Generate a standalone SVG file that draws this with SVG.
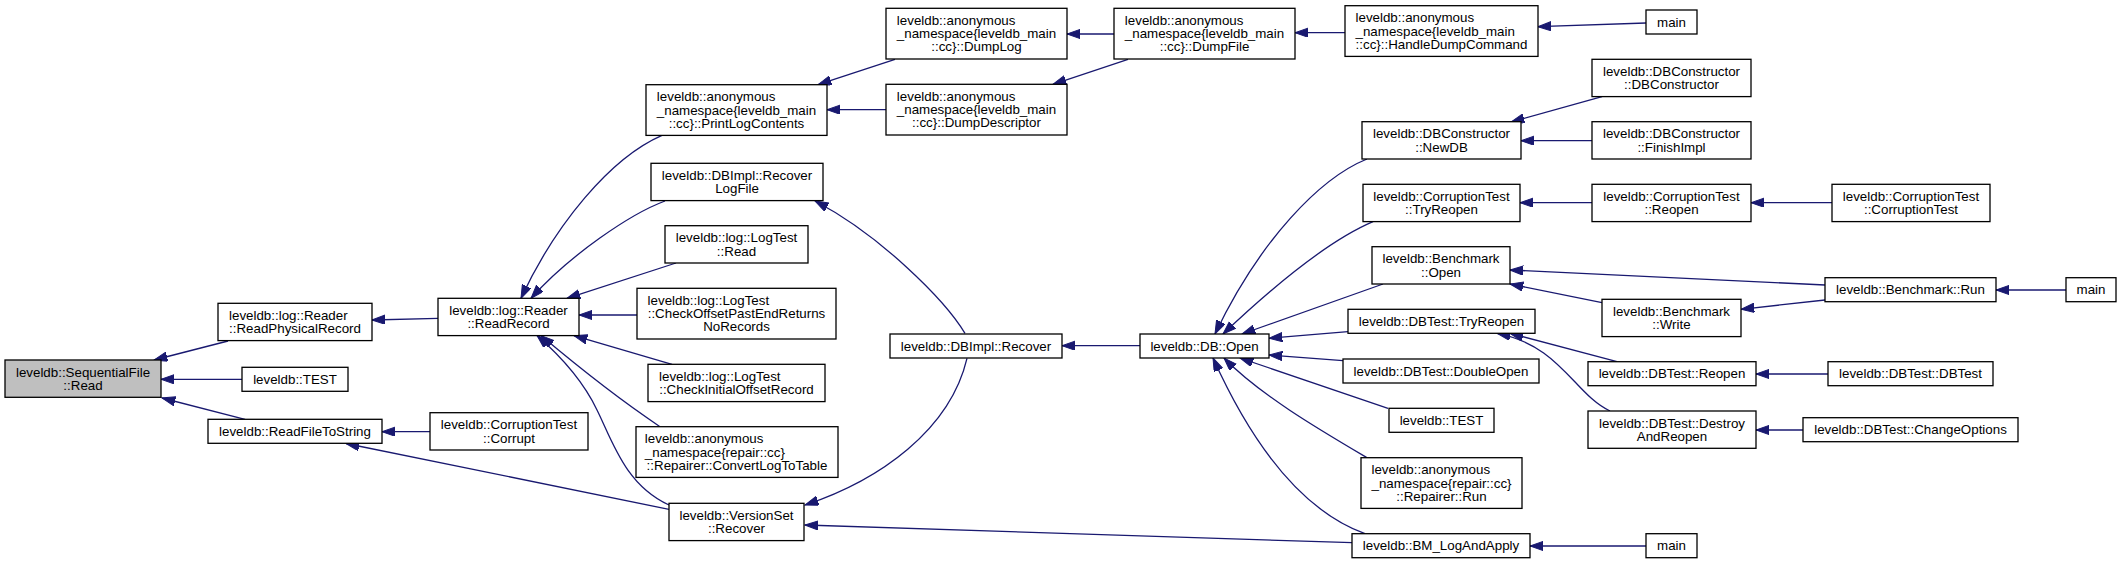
<svg xmlns="http://www.w3.org/2000/svg" width="2121" height="564" viewBox="0 0 2121 564">
<style>
.n rect{fill:#fff;stroke:#000;stroke-width:1.3}
.n text{font-family:"Liberation Sans",Arial,Helvetica,sans-serif;font-size:13.33px;fill:#000}
.m{text-anchor:middle}
#n_read rect{fill:#bfbfbf}
.e path{fill:none;stroke:#191970;stroke-width:1.3;marker-end:url(#ah)}
</style>
<defs>
<marker id="ah" markerUnits="userSpaceOnUse" viewBox="0 0 14 10" refX="13.3" refY="4.67" markerWidth="14" markerHeight="10" orient="auto">
<path d="M0,0 L13.3,4.67 L0,9.33 z" fill="#191970" stroke="#191970" stroke-width="1"/>
</marker>
</defs>
<g id="edges" class="e">
<path d="M228,341 L154,360"/>
<path d="M242,379.3 L161,379.3"/>
<path d="M245,419.3 L162,398"/>
<path d="M438,318.3 L372,320"/>
<path d="M430,431.7 L382,431.7"/>
<path d="M669,509.3 L346,443.5"/>
<path d="M662,135.3 C610,158 555,225 521,298.3"/>
<path d="M665,201 C630,214 570,255 531,298.3"/>
<path d="M676,263 L567,298.3"/>
<path d="M637,315 L579,315"/>
<path d="M672,364.3 L574,335.6"/>
<path d="M660,426.7 C620,400 570,360 541,335.6"/>
<path d="M669,505 C625,485 612,440 597,410 C585,385 565,360 537,335.6"/>
<path d="M895,59.3 L818,84.7"/>
<path d="M886,109.7 L827,109.7"/>
<path d="M965,333.3 C945,300 880,235 815,201"/>
<path d="M967,358.3 C950,430 880,480 805,505"/>
<path d="M1352,542.7 L805,525"/>
<path d="M1140,345.7 L1062,345.7"/>
<path d="M1114,34 L1067,34"/>
<path d="M1128,59.3 L1053,84.3"/>
<path d="M1345,32.7 L1295,32.7"/>
<path d="M1646,23 L1538,26.7"/>
<path d="M1367,159 C1320,178 1260,240 1215,334"/>
<path d="M1373,221.7 C1330,240 1280,280 1223,334"/>
<path d="M1383,284 L1242,334"/>
<path d="M1348,331.7 L1269,338.3"/>
<path d="M1343,360.7 L1269,355"/>
<path d="M1388,408.3 L1240,358"/>
<path d="M1367,457.7 C1320,430 1260,395 1224,358"/>
<path d="M1365,533.7 C1300,510 1250,440 1213,358"/>
<path d="M1602,96.7 L1511,122"/>
<path d="M1592,140.7 L1521,140.7"/>
<path d="M1592,202.7 L1520,202.7"/>
<path d="M1832,202.7 L1751,202.7"/>
<path d="M1825,285 L1510,270"/>
<path d="M1602,302.7 L1510,284"/>
<path d="M1825,300 L1741,309.3"/>
<path d="M2066,290 L1996,290"/>
<path d="M1617,361.7 L1510,333.3"/>
<path d="M1610,411 C1575,395 1560,345 1497,333.3"/>
<path d="M1828,374 L1756,374"/>
<path d="M1803,430 L1756,430"/>
<path d="M1646,546 L1530,546"/>
</g>
<g id="n_read" class="n"><rect x="5" y="360" width="156" height="37.3"/><text x="15.95" y="376.5">leveldb::SequentialFile</text><text class="m" x="83" y="389.8">::Read</text></g>
<g id="n_rpr" class="n"><rect x="218" y="303.3" width="154" height="37.3"/><text x="229.05" y="319.8">leveldb::log::Reader</text><text class="m" x="295" y="333.1">::ReadPhysicalRecord</text></g>
<g id="n_test1" class="n"><rect x="242" y="367.3" width="106" height="24"/><text class="m" x="295" y="383.8">leveldb::TEST</text></g>
<g id="n_rfts" class="n"><rect x="208" y="419.3" width="174" height="24"/><text class="m" x="295" y="435.8">leveldb::ReadFileToString</text></g>
<g id="n_rr" class="n"><rect x="438" y="298.3" width="141" height="37.3"/><text class="m" x="508.5" y="314.8">leveldb::log::Reader</text><text class="m" x="508.5" y="328.1">::ReadRecord</text></g>
<g id="n_corrupt" class="n"><rect x="430" y="412.7" width="158" height="37.3"/><text class="m" x="509" y="429.2">leveldb::CorruptionTest</text><text class="m" x="509" y="442.5">::Corrupt</text></g>
<g id="n_plc" class="n"><rect x="646" y="84.7" width="181" height="50.7"/><text x="656.85" y="101.2">leveldb::anonymous</text><text x="656.85" y="114.5">_namespace{leveldb_main</text><text class="m" x="736.5" y="127.8">::cc}::PrintLogContents</text></g>
<g id="n_rlf" class="n"><rect x="651" y="163.3" width="172" height="37.3"/><text class="m" x="737" y="179.8">leveldb::DBImpl::Recover</text><text class="m" x="737" y="193.1">LogFile</text></g>
<g id="n_ltread" class="n"><rect x="665" y="225.7" width="143" height="37.3"/><text class="m" x="736.5" y="242.2">leveldb::log::LogTest</text><text class="m" x="736.5" y="255.5">::Read</text></g>
<g id="n_coper" class="n"><rect x="637" y="288.3" width="199" height="50.7"/><text x="647.6" y="304.8">leveldb::log::LogTest</text><text class="m" x="736.5" y="318.1">::CheckOffsetPastEndReturns</text><text class="m" x="736.5" y="331.4">NoRecords</text></g>
<g id="n_cior" class="n"><rect x="648" y="364.3" width="177" height="37.3"/><text x="659.05" y="380.8">leveldb::log::LogTest</text><text class="m" x="736.5" y="394.1">::CheckInitialOffsetRecord</text></g>
<g id="n_cltt" class="n"><rect x="636" y="426.7" width="202" height="50.7"/><text x="644.85" y="443.2">leveldb::anonymous</text><text x="644.85" y="456.5">_namespace{repair::cc}</text><text class="m" x="737" y="469.8">::Repairer::ConvertLogToTable</text></g>
<g id="n_vsr" class="n"><rect x="669" y="503.3" width="135" height="37.3"/><text class="m" x="736.5" y="519.8">leveldb::VersionSet</text><text class="m" x="736.5" y="533.1">::Recover</text></g>
<g id="n_dumplog" class="n"><rect x="886" y="8.3" width="181" height="50.7"/><text x="896.85" y="24.8">leveldb::anonymous</text><text x="896.85" y="38.1">_namespace{leveldb_main</text><text class="m" x="976.5" y="51.4">::cc}::DumpLog</text></g>
<g id="n_dumpdesc" class="n"><rect x="886" y="84.3" width="181" height="50.7"/><text x="896.85" y="100.8">leveldb::anonymous</text><text x="896.85" y="114.1">_namespace{leveldb_main</text><text class="m" x="976.5" y="127.4">::cc}::DumpDescriptor</text></g>
<g id="n_dbir" class="n"><rect x="890" y="334" width="172" height="24"/><text class="m" x="976" y="350.5">leveldb::DBImpl::Recover</text></g>
<g id="n_dumpfile" class="n"><rect x="1114" y="8.3" width="181" height="50.7"/><text x="1124.85" y="24.8">leveldb::anonymous</text><text x="1124.85" y="38.1">_namespace{leveldb_main</text><text class="m" x="1204.5" y="51.4">::cc}::DumpFile</text></g>
<g id="n_dbopen" class="n"><rect x="1140" y="334" width="129" height="24"/><text class="m" x="1204.5" y="350.5">leveldb::DB::Open</text></g>
<g id="n_hdc" class="n"><rect x="1345" y="5.7" width="193" height="50.7"/><text x="1355.55" y="22.2">leveldb::anonymous</text><text x="1355.55" y="35.5">_namespace{leveldb_main</text><text class="m" x="1441.5" y="48.8">::cc}::HandleDumpCommand</text></g>
<g id="n_newdb" class="n"><rect x="1362" y="121.7" width="159" height="37.3"/><text class="m" x="1441.5" y="138.2">leveldb::DBConstructor</text><text class="m" x="1441.5" y="151.5">::NewDB</text></g>
<g id="n_cttryreopen" class="n"><rect x="1363" y="184.3" width="157" height="37.3"/><text class="m" x="1441.5" y="200.8">leveldb::CorruptionTest</text><text class="m" x="1441.5" y="214.1">::TryReopen</text></g>
<g id="n_bmopen" class="n"><rect x="1372" y="246.7" width="138" height="37.3"/><text class="m" x="1441" y="263.2">leveldb::Benchmark</text><text class="m" x="1441" y="276.5">::Open</text></g>
<g id="n_dbttryreopen" class="n"><rect x="1348" y="309.3" width="187" height="24"/><text class="m" x="1441.5" y="325.8">leveldb::DBTest::TryReopen</text></g>
<g id="n_doubleopen" class="n"><rect x="1343" y="359" width="196" height="24"/><text class="m" x="1441" y="375.5">leveldb::DBTest::DoubleOpen</text></g>
<g id="n_test2" class="n"><rect x="1389" y="408.3" width="105" height="24"/><text class="m" x="1441.5" y="424.8">leveldb::TEST</text></g>
<g id="n_reprun" class="n"><rect x="1361" y="457.7" width="161" height="50.7"/><text x="1371.5" y="474.2">leveldb::anonymous</text><text x="1371.5" y="487.5">_namespace{repair::cc}</text><text class="m" x="1441.5" y="500.8">::Repairer::Run</text></g>
<g id="n_bmla" class="n"><rect x="1352" y="533.7" width="178" height="24"/><text class="m" x="1441" y="550.2">leveldb::BM_LogAndApply</text></g>
<g id="n_main1" class="n"><rect x="1646" y="10" width="51" height="24"/><text class="m" x="1671.5" y="26.5">main</text></g>
<g id="n_dbcdbc" class="n"><rect x="1592" y="59.3" width="159" height="37.3"/><text class="m" x="1671.5" y="75.8">leveldb::DBConstructor</text><text class="m" x="1671.5" y="89.1">::DBConstructor</text></g>
<g id="n_finishimpl" class="n"><rect x="1592" y="121.7" width="159" height="37.3"/><text class="m" x="1671.5" y="138.2">leveldb::DBConstructor</text><text class="m" x="1671.5" y="151.5">::FinishImpl</text></g>
<g id="n_ctreopen" class="n"><rect x="1592" y="184.3" width="159" height="37.3"/><text class="m" x="1671.5" y="200.8">leveldb::CorruptionTest</text><text class="m" x="1671.5" y="214.1">::Reopen</text></g>
<g id="n_bmwrite" class="n"><rect x="1602" y="299.3" width="139" height="37.3"/><text class="m" x="1671.5" y="315.8">leveldb::Benchmark</text><text class="m" x="1671.5" y="329.1">::Write</text></g>
<g id="n_dbtreopen" class="n"><rect x="1588" y="361.7" width="168" height="24"/><text class="m" x="1672" y="378.2">leveldb::DBTest::Reopen</text></g>
<g id="n_destroy" class="n"><rect x="1588" y="411" width="168" height="37.3"/><text class="m" x="1672" y="427.5">leveldb::DBTest::Destroy</text><text class="m" x="1672" y="440.8">AndReopen</text></g>
<g id="n_main3" class="n"><rect x="1646" y="533.7" width="51" height="24"/><text class="m" x="1671.5" y="550.2">main</text></g>
<g id="n_ctct" class="n"><rect x="1832" y="184.3" width="158" height="37.3"/><text class="m" x="1911" y="200.8">leveldb::CorruptionTest</text><text class="m" x="1911" y="214.1">::CorruptionTest</text></g>
<g id="n_bmrun" class="n"><rect x="1825" y="277.7" width="171" height="24"/><text class="m" x="1910.5" y="294.2">leveldb::Benchmark::Run</text></g>
<g id="n_dbtdbtest" class="n"><rect x="1828" y="361.7" width="165" height="24"/><text class="m" x="1910.5" y="378.2">leveldb::DBTest::DBTest</text></g>
<g id="n_changeopts" class="n"><rect x="1803" y="417.7" width="215" height="24"/><text class="m" x="1910.5" y="434.2">leveldb::DBTest::ChangeOptions</text></g>
<g id="n_main2" class="n"><rect x="2066" y="277.7" width="50" height="24"/><text class="m" x="2091" y="294.2">main</text></g>
</svg>
